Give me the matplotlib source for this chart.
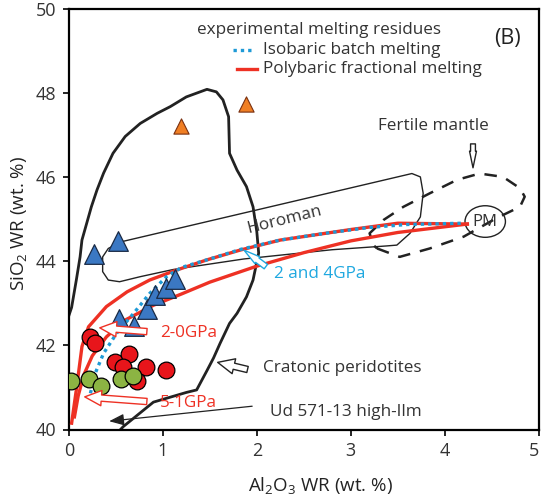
import numpy as np
import matplotlib
matplotlib.use("Agg")
import matplotlib.pyplot as plt
from matplotlib.patches import FancyArrowPatch, Ellipse

plt.rcParams['font.family'] = ['Open Sans', 'DejaVu Sans']
plt.rcParams['mathtext.default'] = 'regular'

# experimental melting residues (Al2O3, SiO2 in wt.%)
blue_al = [0.27, 0.52, 0.535, 0.69, 0.83, 0.92, 1.03, 1.13]
blue_si = [44.16, 44.48, 42.62, 42.46, 42.86, 43.19, 43.36, 43.57]
orange_al = [1.19, 1.89]
orange_si = [47.22, 47.73]
red_al = [0.23, 0.28, 0.49, 0.64, 0.58, 0.82, 1.03, 0.73]
red_si = [42.2, 42.05, 41.61, 41.79, 41.49, 41.49, 41.42, 41.15]
green_al = [0.02, 0.22, 0.34, 0.55, 0.68]
green_si = [41.15, 41.2, 41.03, 41.2, 41.28]

# melting models
poly_outer_al = [0.03, 0.08, 0.14, 0.21, 0.40, 0.62, 0.86, 1.15, 1.47, 1.82, 2.25, 2.79, 3.0, 3.5, 4.24]
poly_outer_si = [40.15, 40.94, 41.97, 42.44, 42.92, 43.27, 43.55, 43.79, 44.03, 44.26, 44.5, 44.68, 44.75, 44.9, 44.88]
poly_inner_al = [0.06, 0.10, 0.16, 0.25, 0.40, 0.60, 0.90, 1.20, 1.50, 2.0, 2.5, 3.0, 3.5, 4.24]
poly_inner_si = [40.3, 40.8, 41.3, 41.75, 42.2, 42.6, 42.95, 43.22, 43.5, 43.88, 44.2, 44.48, 44.68, 44.88]
iso_al = [0.23, 0.28, 0.37, 0.51, 0.69, 0.86, 1.04, 1.2, 1.5, 1.83, 2.25, 2.79, 3.2, 3.6, 4.2]
iso_si = [40.86, 41.33, 41.81, 42.29, 42.76, 43.23, 43.63, 43.85, 44.05, 44.28, 44.5, 44.68, 44.8, 44.87, 44.9]

# fields
craton_al = [0.0, 0.03, 0.08, 0.12, 0.14, 0.24, 0.30, 0.37, 0.47, 0.60, 0.76, 0.94, 1.08, 1.25, 1.47, 1.57,
             1.64, 1.70, 1.71, 1.79, 1.89, 1.96, 2.0, 2.02, 1.96, 1.89, 1.79, 1.71, 1.61, 1.54, 1.47,
             1.36, 1.25, 0.90, 0.58, 0.55]
craton_si = [42.7, 42.9, 43.55, 44.1, 44.5, 45.29, 45.69, 46.09, 46.56, 46.96, 47.27, 47.51, 47.67, 47.9, 48.08, 48.02,
             47.83, 47.43, 46.56, 46.16, 45.77, 45.29, 44.7, 44.19, 43.55, 43.15, 42.76, 42.52, 42.05, 41.7, 41.4,
             40.94, 40.88, 40.65, 40.07, 40.0]
horoman_al = [0.56, 3.65, 3.74, 3.77, 3.74, 3.63, 3.49, 3.38, 2.8, 1.86, 1.11, 0.76, 0.54, 0.42, 0.36, 0.36, 0.42, 0.56]
horoman_si = [44.46, 46.08, 46.0, 45.61, 45.05, 44.66, 44.38, 44.36, 44.27, 44.05, 43.8, 43.63, 43.51, 43.55, 43.75, 44.1, 44.3, 44.46]
fertile_al = [3.28, 3.52, 3.84, 4.20, 4.55, 4.80, 4.85, 4.80, 4.62, 4.37, 4.13, 3.84, 3.56, 3.35, 3.20, 3.24, 3.28]
fertile_si = [44.3, 44.1, 44.3, 44.58, 45.02, 45.29, 45.53, 45.73, 46.0, 46.08, 45.93, 45.61, 45.29, 44.98, 44.66, 44.38, 44.3]
pm_al, pm_si = 4.43, 44.94

red = '#ee3124'
blue = '#1e9ad6'
label_blue = '#1fa8e0'
dark = '#222222'
grey_text = '#333333'
fs = 12.3

fig = plt.figure(figsize=(5.42, 4.96), dpi=100)
ax = fig.add_axes([68.8 / 542, 66.5 / 496, 470 / 542, 421 / 496])

ax.plot(craton_al, craton_si, color=dark, lw=2.0, zorder=2)
ax.plot(horoman_al, horoman_si, color=dark, lw=1.0, zorder=2)
ax.plot(fertile_al, fertile_si, color=dark, lw=1.8, ls=(0, (5, 4)), zorder=2)
ax.add_patch(Ellipse((pm_al, pm_si), 0.43, 0.75, fill=False, ec=dark, lw=1.0, zorder=2))
ax.text(pm_al, pm_si, 'PM', ha='center', va='center', fontsize=12, color=grey_text, zorder=2)

ax.plot(poly_outer_al, poly_outer_si, color=red, lw=2.4, zorder=3)
ax.plot(poly_inner_al, poly_inner_si, color=red, lw=2.4, zorder=3)
ax.plot(iso_al, iso_si, color=blue, lw=2.4, ls=(0, (1, 1.2)), zorder=4)

ax.scatter(red_al, red_si, s=145, c='#e8151b', edgecolors='black', linewidths=0.9, zorder=5)
ax.scatter(green_al, green_si, s=145, c='#8cb443', edgecolors='black', linewidths=0.9, zorder=5)
ax.scatter(blue_al, blue_si, s=200, marker='^', c='#3b78c3', edgecolors='#1a2a45', linewidths=0.9, zorder=6)
ax.scatter(orange_al, orange_si, s=120, marker='^', c='#f07f24', edgecolors='#7a3010', linewidths=0.8, zorder=6)


def hollow_arrow(tail, tip, color, head_w=1.1, tail_w=0.45, zorder=7):
    style = f'simple,head_length=1.2,head_width={head_w},tail_width={tail_w}'
    arr = FancyArrowPatch(tail, tip, arrowstyle=style, mutation_scale=10,
                          fc='white', ec=color, lw=1.0, zorder=zorder)
    ax.add_patch(arr)


hollow_arrow((0.86, 42.32), (0.30, 42.42), red)
ax.text(0.97, 42.3, '2-0GPa', color=red, fontsize=fs, va='center')
hollow_arrow((0.86, 40.66), (0.14, 40.78), red)
ax.text(0.97, 40.62, '5-1GPa', color=red, fontsize=fs, va='center')
hollow_arrow((2.12, 43.83), (1.84, 44.30), label_blue, head_w=0.6, tail_w=0.4)
ax.text(2.18, 43.7, '2 and 4GPa', color=label_blue, fontsize=fs, va='center')
hollow_arrow((1.93, 41.41), (1.555, 41.61), dark)
ax.text(2.07, 41.45, 'Cratonic peridotites', color=grey_text, fontsize=fs, va='center')
hollow_arrow((4.30, 46.85), (4.30, 46.15), dark, head_w=0.5, tail_w=0.35)
ax.text(3.88, 47.2, 'Fertile mantle', color=grey_text, fontsize=fs, ha='center', va='center')
ax.annotate('', xy=(0.40, 40.19), xytext=(1.98, 40.56),
            arrowprops=dict(arrowstyle='-|>,head_length=0.9,head_width=0.35', color=dark, lw=0.9))
ax.text(2.14, 40.42, 'Ud 571-13 high-Ilm', color=grey_text, fontsize=fs, va='center')
ax.text(2.3, 44.97, 'Horoman', color=grey_text, fontsize=fs, ha='center', va='center', rotation=14)

# legend drawn as text and line samples
ax.text(1.36, 49.49, 'experimental melting residues', color=grey_text, fontsize=fs, va='center')
ax.plot([1.75, 1.98], [49.01, 49.01], color=blue, lw=2.4, ls=(0, (1, 1.2)))
ax.text(2.07, 49.01, 'Isobaric batch melting', color=grey_text, fontsize=fs, va='center')
ax.plot([1.79, 2.0], [48.56, 48.56], color=red, lw=2.4)
ax.text(2.07, 48.56, 'Polybaric fractional melting', color=grey_text, fontsize=fs, va='center')
ax.text(4.67, 49.28, '(B)', color=dark, fontsize=15.5, ha='center', va='center')

ax.set_xlim(0, 5)
ax.set_ylim(40, 50)
ax.set_xticks([0, 1, 2, 3, 4, 5])
ax.set_yticks([40, 42, 44, 46, 48, 50])
ax.tick_params(direction='out', length=4, width=1.2, labelsize=13, labelcolor=grey_text, pad=5)
ax.get_xticklabels()[-1].set_horizontalalignment('right')
for sp in ax.spines.values():
    sp.set_linewidth(1.6)
ax.set_xlabel('Al$_2$O$_3$ WR (wt. %)', fontsize=13.5, color=dark, va='center')
ax.xaxis.set_label_coords((321 - 68.8) / 470, -0.132)
ax.set_ylabel('SiO$_2$ WR (wt. %)', fontsize=13.5, color=dark, va='center')
ax.yaxis.set_label_coords(-0.106, 0.49)

fig.savefig('out.png', dpi=100)
